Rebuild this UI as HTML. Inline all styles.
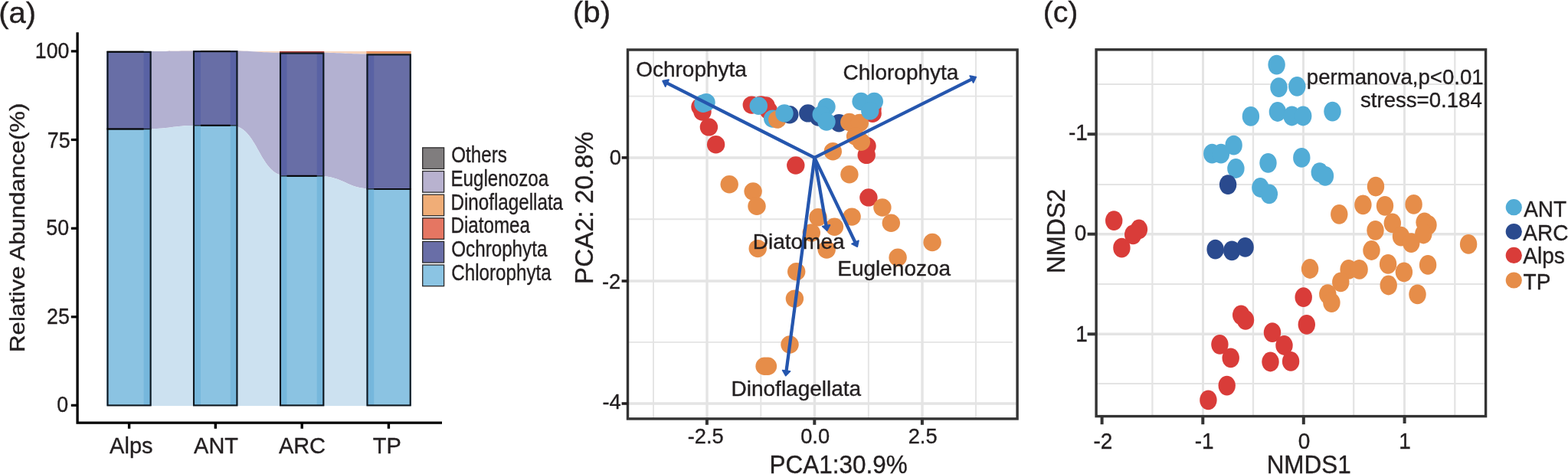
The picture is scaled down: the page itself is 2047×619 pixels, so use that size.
<!DOCTYPE html>
<html lang="en">
<head>
<meta charset="utf-8">
<title>Figure: relative abundance, PCA and NMDS</title>
<style>
html,body{margin:0;padding:0;background:#fff;}
body{width:2047px;height:619px;overflow:hidden;}
svg{display:block;font-family:"Liberation Sans", Arial, Helvetica, sans-serif;}
</style>
</head>
<body>
<svg width="2047" height="619" viewBox="0 0 2047 619" role="img" aria-label="Three-panel figure: relative abundance bars, PCA biplot, NMDS ordination">
<rect x="0" y="0" width="2047" height="619" fill="#ffffff"/>
<g id="panel-a">
<text transform="translate(-1.74 29.90) scale(1.02 1)" font-size="39.20" fill="#231f20" stroke="#231f20" stroke-width="0.36" xml:space="preserve">(a)</text>
<path d="M187.6,67.0 C224.8,67.0 224.8,67.0 262.0,67.0 L262.0,66.4 C224.8,66.4 224.8,67.0 187.6,67.0 Z" fill="#f8d6bf"/>
<path d="M187.6,67.0 C224.8,67.0 224.8,66.4 262.0,66.4 L262.0,163.8 C224.8,163.8 224.8,168.5 187.6,168.5 Z" fill="#b3b1d1"/>
<path d="M187.6,168.5 C224.8,168.5 224.8,163.8 262.0,163.8 L262.0,529.9 C224.8,529.9 224.8,529.9 187.6,529.9 Z" fill="#cce1f0"/>
<path d="M300.7,67.0 C337.6,67.0 337.6,67.0 374.5,67.0 L374.5,68.8 C337.6,68.8 337.6,66.4 300.7,66.4 Z" fill="#f8d6bf"/>
<path d="M300.7,66.4 C337.6,66.4 337.6,68.8 374.5,68.8 L374.5,229.8 C337.6,229.8 337.6,163.8 300.7,163.8 Z" fill="#b3b1d1"/>
<path d="M300.7,163.8 C337.6,163.8 337.6,229.8 374.5,229.8 L374.5,529.9 C337.6,529.9 337.6,529.9 300.7,529.9 Z" fill="#cce1f0"/>
<path d="M413.7,67.0 C450.95,67.0 450.95,67.0 488.2,67.0 L488.2,70.6 C450.95,70.6 450.95,68.8 413.7,68.8 Z" fill="#f8d6bf"/>
<path d="M413.7,68.8 C450.95,68.8 450.95,70.6 488.2,70.6 L488.2,246.9 C450.95,246.9 450.95,229.8 413.7,229.8 Z" fill="#b3b1d1"/>
<path d="M413.7,229.8 C450.95,229.8 450.95,246.9 488.2,246.9 L488.2,529.9 C450.95,529.9 450.95,529.9 413.7,529.9 Z" fill="#cce1f0"/>
<rect x="139.5" y="67.0" width="58.0" height="101.5" fill="#5962a4"/>
<rect x="139.5" y="168.5" width="58.0" height="361.4" fill="#76b7dc"/>
<rect x="139.5" y="67.0" width="48.1" height="101.5" fill="#686ea6"/>
<rect x="139.5" y="168.5" width="48.1" height="361.4" fill="#8bc3e2"/>
<rect x="140.50" y="67.80" width="56.10" height="461.60" fill="none" stroke="#0e171f" stroke-width="2.1"/>
<line x1="139.5" x2="197.5" y1="168.5" y2="168.5" stroke="#141c22" stroke-width="1.3"/>
<line x1="139.5" x2="187.6" y1="168.5" y2="168.5" stroke="#000" stroke-width="1.9"/>
<line x1="139.5" x2="187.6" y1="67.5" y2="67.5" stroke="#000" stroke-width="1.6"/>
<rect x="252.0" y="66.4" width="58.3" height="97.4" fill="#5962a4"/>
<rect x="252.0" y="163.8" width="58.3" height="366.1" fill="#76b7dc"/>
<rect x="262.0" y="66.4" width="38.7" height="97.4" fill="#686ea6"/>
<rect x="262.0" y="163.8" width="38.7" height="366.1" fill="#8bc3e2"/>
<rect x="253.00" y="67.20" width="56.40" height="462.20" fill="none" stroke="#0e171f" stroke-width="2.1"/>
<line x1="252.0" x2="310.3" y1="163.8" y2="163.8" stroke="#141c22" stroke-width="1.3"/>
<line x1="262.0" x2="300.7" y1="163.8" y2="163.8" stroke="#000" stroke-width="1.9"/>
<line x1="262.0" x2="300.7" y1="66.9" y2="66.9" stroke="#000" stroke-width="1.6"/>
<rect x="365.0" y="68.8" width="58.2" height="161.0" fill="#5962a4"/>
<rect x="365.0" y="229.8" width="58.2" height="300.1" fill="#76b7dc"/>
<rect x="374.5" y="68.8" width="39.2" height="161.0" fill="#686ea6"/>
<rect x="374.5" y="229.8" width="39.2" height="300.1" fill="#8bc3e2"/>
<rect x="365.0" y="67.0" width="58.2" height="1.8" fill="#a5352c"/>
<rect x="366.00" y="69.60" width="56.30" height="459.80" fill="none" stroke="#0e171f" stroke-width="2.1"/>
<line x1="365.0" x2="423.2" y1="229.8" y2="229.8" stroke="#141c22" stroke-width="1.3"/>
<line x1="374.5" x2="413.7" y1="229.8" y2="229.8" stroke="#000" stroke-width="1.9"/>
<rect x="478.5" y="70.6" width="58.1" height="176.3" fill="#5962a4"/>
<rect x="478.5" y="246.9" width="58.1" height="283.0" fill="#76b7dc"/>
<rect x="488.2" y="70.6" width="48.4" height="176.3" fill="#686ea6"/>
<rect x="488.2" y="246.9" width="48.4" height="283.0" fill="#8bc3e2"/>
<rect x="478.5" y="67.0" width="58.1" height="3.6" fill="#e79a62"/>
<rect x="478.5" y="67.0" width="58.1" height="0.8" fill="#e8825f"/>
<rect x="479.50" y="71.40" width="56.20" height="458.00" fill="none" stroke="#0e171f" stroke-width="2.1"/>
<line x1="478.5" x2="536.6" y1="246.9" y2="246.9" stroke="#141c22" stroke-width="1.3"/>
<line x1="488.2" x2="536.6" y1="246.9" y2="246.9" stroke="#000" stroke-width="1.9"/>
<path d="M101.1,42.2 V552.2 H577.0" fill="none" stroke="#000" stroke-width="3.3" stroke-linejoin="miter"/>
<line x1="92.8" x2="101" y1="66.9" y2="66.9" stroke="#000" stroke-width="3.2"/>
<text transform="translate(45.75 75.70) scale(0.93 1)" font-size="28.78" fill="#231f20" stroke="#231f20" stroke-width="0.36" xml:space="preserve">100</text>
<line x1="92.8" x2="101" y1="182.5" y2="182.5" stroke="#000" stroke-width="3.2"/>
<text transform="translate(61.82 193.20) scale(0.93 1)" font-size="28.78" fill="#231f20" stroke="#231f20" stroke-width="0.36" xml:space="preserve">75</text>
<line x1="92.8" x2="101" y1="298.2" y2="298.2" stroke="#000" stroke-width="3.2"/>
<text transform="translate(60.35 307.20) scale(0.93 1)" font-size="28.78" fill="#231f20" stroke="#231f20" stroke-width="0.36" xml:space="preserve">50</text>
<line x1="92.8" x2="101" y1="413.8" y2="413.8" stroke="#000" stroke-width="3.2"/>
<text transform="translate(61.02 422.90) scale(0.93 1)" font-size="28.78" fill="#231f20" stroke="#231f20" stroke-width="0.36" xml:space="preserve">25</text>
<line x1="92.8" x2="101" y1="529.3" y2="529.3" stroke="#000" stroke-width="3.2"/>
<text transform="translate(74.28 537.60) scale(0.93 1)" font-size="28.78" fill="#231f20" stroke="#231f20" stroke-width="0.36" xml:space="preserve">0</text>
<line x1="168.6" x2="168.6" y1="552" y2="559.8" stroke="#000" stroke-width="3.4"/>
<text transform="translate(143.12 592.00) scale(0.98 1)" font-size="29.58" fill="#231f20" stroke="#231f20" stroke-width="0.36" xml:space="preserve">Alps</text>
<line x1="281.3" x2="281.3" y1="552" y2="559.8" stroke="#000" stroke-width="3.4"/>
<text transform="translate(253.09 592.00) scale(0.96 1)" font-size="30.16" fill="#231f20" stroke="#231f20" stroke-width="0.36" xml:space="preserve">ANT</text>
<line x1="394.2" x2="394.2" y1="552" y2="559.8" stroke="#000" stroke-width="3.4"/>
<text transform="translate(363.88 592.00) scale(0.96 1)" font-size="30.16" fill="#231f20" stroke="#231f20" stroke-width="0.36" xml:space="preserve">ARC</text>
<line x1="507.4" x2="507.4" y1="552" y2="559.8" stroke="#000" stroke-width="3.4"/>
<text transform="translate(486.71 592.00) scale(0.96 1)" font-size="30.16" fill="#231f20" stroke="#231f20" stroke-width="0.36" xml:space="preserve">TP</text>
<text transform="translate(31.90 459.88) rotate(-90) scale(1.1 1)" font-size="28.30" fill="#231f20" stroke="#231f20" stroke-width="0.36" xml:space="preserve">Relative Abundance(%)</text>
<rect x="551.7" y="192.90" width="27.9" height="27.6" fill="#807d7e" stroke="#2b2a2b" stroke-width="1.3"/>
<text transform="translate(589.25 212.40) scale(0.83 1)" font-size="29.17" fill="#231f20" stroke="#231f20" stroke-width="0.36" xml:space="preserve">Others</text>
<rect x="551.7" y="223.52" width="27.9" height="27.6" fill="#b8b2cf" stroke="#2b2a2b" stroke-width="1.3"/>
<text transform="translate(588.40 243.02) scale(0.83 1)" font-size="29.17" fill="#231f20" stroke="#231f20" stroke-width="0.36" xml:space="preserve">Euglenozoa</text>
<rect x="551.7" y="254.14" width="27.9" height="27.6" fill="#f0ad77" stroke="#2b2a2b" stroke-width="1.3"/>
<text transform="translate(588.40 273.64) scale(0.83 1)" font-size="29.17" fill="#231f20" stroke="#231f20" stroke-width="0.36" xml:space="preserve">Dinoflagellata</text>
<rect x="551.7" y="284.76" width="27.9" height="27.6" fill="#e57662" stroke="#2b2a2b" stroke-width="1.3"/>
<text transform="translate(588.40 304.26) scale(0.83 1)" font-size="29.17" fill="#231f20" stroke="#231f20" stroke-width="0.36" xml:space="preserve">Diatomea</text>
<rect x="551.7" y="315.38" width="27.9" height="27.6" fill="#696ea7" stroke="#2b2a2b" stroke-width="1.3"/>
<text transform="translate(589.25 334.88) scale(0.83 1)" font-size="29.17" fill="#231f20" stroke="#231f20" stroke-width="0.36" xml:space="preserve">Ochrophyta</text>
<rect x="551.7" y="346.00" width="27.9" height="27.6" fill="#8bc4e3" stroke="#2b2a2b" stroke-width="1.3"/>
<text transform="translate(589.19 365.50) scale(0.83 1)" font-size="29.17" fill="#231f20" stroke="#231f20" stroke-width="0.36" xml:space="preserve">Chlorophyta</text>
</g>
<g id="panel-b">
<text transform="translate(747.87 29.30) scale(1.03 1)" font-size="39.20" fill="#231f20" stroke="#231f20" stroke-width="0.36" xml:space="preserve">(b)</text>
<path d="M852.05,65.0h1.9V546.9h-1.9z M992.35,65.0h1.9V546.9h-1.9z M1132.85,65.0h1.9V546.9h-1.9z M1273.05,65.0h1.9V546.9h-1.9z M819.5,124.65H1322v1.9H819.5z M819.5,285.35H1322v1.9H819.5z M819.5,445.95H1322v1.9H819.5z M921.30,65.0h3.4V546.9h-3.4z M1061.75,65.0h3.4V546.9h-3.4z M1202.30,65.0h3.4V546.9h-3.4z M819.5,204.25H1326.6v3.5H819.5z M819.5,365.25H1326.6v3.5H819.5z M819.5,525.25H1326.6v3.5H819.5z" fill="#e4e4e4"/>
<circle cx="914.0" cy="139.5" r="11.7" fill="#d93c39"/>
<circle cx="917.0" cy="146.0" r="11.7" fill="#d93c39"/>
<circle cx="918.0" cy="135.2" r="11.7" fill="#52acd6"/>
<circle cx="922.0" cy="133.8" r="11.7" fill="#52acd6"/>
<circle cx="925.4" cy="165.9" r="11.7" fill="#d93c39"/>
<circle cx="934.6" cy="188.7" r="11.7" fill="#d93c39"/>
<circle cx="981.3" cy="137.1" r="11.7" fill="#d93c39"/>
<circle cx="993.5" cy="137.0" r="11.7" fill="#d93c39"/>
<circle cx="1000.0" cy="138.0" r="11.7" fill="#d93c39"/>
<circle cx="1003.5" cy="144.5" r="11.7" fill="#d93c39"/>
<circle cx="1008.7" cy="155.1" r="11.7" fill="#52acd6"/>
<circle cx="1014.8" cy="156.1" r="11.7" fill="#e68d49"/>
<circle cx="990.3" cy="138.3" r="11.7" fill="#52acd6"/>
<circle cx="1030.8" cy="149.8" r="11.7" fill="#2a4a8e"/>
<circle cx="1024.0" cy="147.9" r="11.7" fill="#52acd6"/>
<circle cx="1054.8" cy="147.9" r="11.7" fill="#2a4a8e"/>
<circle cx="1068.5" cy="153.0" r="11.7" fill="#2a4a8e"/>
<circle cx="1095.3" cy="160.8" r="11.7" fill="#2a4a8e"/>
<circle cx="1079.0" cy="139.6" r="11.7" fill="#52acd6"/>
<circle cx="1072.2" cy="149.6" r="11.7" fill="#52acd6"/>
<circle cx="1079.0" cy="159.0" r="11.7" fill="#52acd6"/>
<circle cx="1139.1" cy="148.3" r="11.7" fill="#d93c39"/>
<circle cx="1139.0" cy="142.0" r="11.7" fill="#d93c39"/>
<circle cx="1108.8" cy="159.4" r="11.7" fill="#e68d49"/>
<circle cx="1122.3" cy="160.4" r="11.7" fill="#e68d49"/>
<circle cx="1132.0" cy="190.7" r="11.7" fill="#d93c39"/>
<circle cx="1131.2" cy="202.4" r="11.7" fill="#d93c39"/>
<circle cx="1116.6" cy="178.0" r="11.7" fill="#e68d49"/>
<circle cx="1124.3" cy="185.2" r="11.7" fill="#e68d49"/>
<circle cx="1124.1" cy="132.4" r="11.7" fill="#52acd6"/>
<circle cx="1141.3" cy="132.4" r="11.7" fill="#52acd6"/>
<circle cx="1135.8" cy="144.9" r="11.7" fill="#52acd6"/>
<circle cx="1087.3" cy="197.7" r="11.7" fill="#e68d49"/>
<circle cx="1038.8" cy="216.0" r="11.7" fill="#d93c39"/>
<circle cx="952.2" cy="240.7" r="11.7" fill="#e68d49"/>
<circle cx="983.1" cy="250.0" r="11.7" fill="#e68d49"/>
<circle cx="988.0" cy="269.2" r="11.7" fill="#e68d49"/>
<circle cx="1108.9" cy="227.8" r="11.7" fill="#e68d49"/>
<circle cx="1133.9" cy="257.9" r="11.7" fill="#d93c39"/>
<circle cx="1151.9" cy="271.0" r="11.7" fill="#e68d49"/>
<circle cx="1163.3" cy="291.3" r="11.7" fill="#e68d49"/>
<circle cx="1068.0" cy="283.7" r="11.7" fill="#e68d49"/>
<circle cx="1112.1" cy="283.1" r="11.7" fill="#e68d49"/>
<circle cx="1089.4" cy="296.3" r="11.7" fill="#e68d49"/>
<circle cx="1059.3" cy="303.9" r="11.7" fill="#e68d49"/>
<circle cx="989.2" cy="324.6" r="11.7" fill="#e68d49"/>
<circle cx="1079.2" cy="326.1" r="11.7" fill="#e68d49"/>
<circle cx="1217.1" cy="316.5" r="11.7" fill="#e68d49"/>
<circle cx="1172.1" cy="336.3" r="11.7" fill="#e68d49"/>
<circle cx="1039.7" cy="354.7" r="11.7" fill="#e68d49"/>
<circle cx="1037.4" cy="390.1" r="11.7" fill="#e68d49"/>
<circle cx="1031.0" cy="450.0" r="11.7" fill="#e68d49"/>
<circle cx="998.1" cy="478.2" r="11.7" fill="#e68d49"/>
<circle cx="1002.4" cy="478.2" r="11.7" fill="#e68d49"/>
<line x1="1063.3" y1="205.9" x2="869.03" y2="107.69" stroke="#2556ae" stroke-width="4.3" stroke-linecap="butt"/>
<polygon points="865.10,105.71 873.03,104.22 868.60,112.97" fill="#2556ae" stroke="#2556ae" stroke-width="1.8" stroke-linejoin="round"/>
<line x1="1063.3" y1="205.9" x2="1270.26" y2="102.57" stroke="#2556ae" stroke-width="4.3" stroke-linecap="butt"/>
<polygon points="1274.19,100.60 1270.66,107.84 1266.28,99.08" fill="#2556ae" stroke="#2556ae" stroke-width="1.8" stroke-linejoin="round"/>
<line x1="1063.3" y1="205.9" x2="1078.90" y2="296.78" stroke="#2556ae" stroke-width="4.3" stroke-linecap="butt"/>
<polygon points="1079.65,301.11 1073.74,295.63 1083.39,293.98" fill="#2556ae" stroke="#2556ae" stroke-width="1.8" stroke-linejoin="round"/>
<line x1="1063.3" y1="205.9" x2="1117.30" y2="318.22" stroke="#2556ae" stroke-width="4.3" stroke-linecap="butt"/>
<polygon points="1119.21,322.19 1112.02,318.54 1120.85,314.30" fill="#2556ae" stroke="#2556ae" stroke-width="1.8" stroke-linejoin="round"/>
<line x1="1063.3" y1="205.9" x2="1026.29" y2="486.25" stroke="#2556ae" stroke-width="4.3" stroke-linecap="butt"/>
<polygon points="1025.72,490.61 1021.70,483.62 1031.41,484.90" fill="#2556ae" stroke="#2556ae" stroke-width="1.8" stroke-linejoin="round"/>
<text transform="translate(830.21 99.90) scale(0.99 1)" font-size="28.28" fill="#231f20" stroke="#231f20" stroke-width="0.36" xml:space="preserve">Ochrophyta</text>
<text transform="translate(1100.46 103.80) scale(0.99 1)" font-size="28.28" fill="#231f20" stroke="#231f20" stroke-width="0.36" xml:space="preserve">Chlorophyta</text>
<text transform="translate(982.79 325.40) scale(0.99 1)" font-size="28.28" fill="#231f20" stroke="#231f20" stroke-width="0.36" xml:space="preserve">Diatomea</text>
<text transform="translate(1093.29 359.80) scale(0.99 1)" font-size="28.28" fill="#231f20" stroke="#231f20" stroke-width="0.36" xml:space="preserve">Euglenozoa</text>
<text transform="translate(954.55 516.50) scale(0.99 1)" font-size="28.28" fill="#231f20" stroke="#231f20" stroke-width="0.36" xml:space="preserve">Dinoflagellata</text>
<rect x="819.5" y="65.0" width="508.6" height="481.9" fill="none" stroke="#333333" stroke-width="3.4"/>
<line x1="811.6" x2="819.5" y1="205.9" y2="205.9" stroke="#231f20" stroke-width="3.6"/>
<text transform="translate(795.82 214.90) scale(0.97 1)" font-size="28.22" fill="#231f20" stroke="#231f20" stroke-width="0.36" xml:space="preserve">0</text>
<line x1="811.6" x2="819.5" y1="367.0" y2="367.0" stroke="#231f20" stroke-width="3.6"/>
<text transform="translate(785.95 376.80) scale(0.97 1)" font-size="28.22" fill="#231f20" stroke="#231f20" stroke-width="0.36" xml:space="preserve">-2</text>
<line x1="811.6" x2="819.5" y1="527.0" y2="527.0" stroke="#231f20" stroke-width="3.6"/>
<text transform="translate(786.44 533.90) scale(0.97 1)" font-size="28.22" fill="#231f20" stroke="#231f20" stroke-width="0.36" xml:space="preserve">-4</text>
<line x1="922.9" x2="922.9" y1="546.9" y2="554.8" stroke="#333333" stroke-width="4"/>
<text transform="translate(897.67 578.70) scale(0.97 1)" font-size="28.12" fill="#231f20" stroke="#231f20" stroke-width="0.36" xml:space="preserve">-2.5</text>
<line x1="1063.3" x2="1063.3" y1="546.9" y2="554.8" stroke="#333333" stroke-width="4"/>
<text transform="translate(1045.14 578.70) scale(0.97 1)" font-size="28.12" fill="#231f20" stroke="#231f20" stroke-width="0.36" xml:space="preserve">0.0</text>
<line x1="1203.9" x2="1203.9" y1="546.9" y2="554.8" stroke="#333333" stroke-width="4"/>
<text transform="translate(1185.69 578.70) scale(0.97 1)" font-size="28.12" fill="#231f20" stroke="#231f20" stroke-width="0.36" xml:space="preserve">2.5</text>
<text transform="translate(1004.54 617.60) scale(0.96 1)" font-size="32.76" fill="#231f20" stroke="#231f20" stroke-width="0.36" xml:space="preserve">PCA1:30.9%</text>
<text transform="translate(774.00 370.93) rotate(-90) scale(0.98 1)" font-size="33.80" fill="#231f20" stroke="#231f20" stroke-width="0.36" xml:space="preserve">PCA2: 20.8%</text>
</g>
<g id="panel-c">
<text transform="translate(1361.67 29.30)" font-size="39.20" fill="#231f20" stroke="#231f20" stroke-width="0.36" xml:space="preserve">(c)</text>
<path d="M1503.25,64.8h2.3V543.6h-2.3z M1634.85,64.8h2.3V543.6h-2.3z M1766.05,64.8h2.3V543.6h-2.3z M1898.15,64.8h2.3V543.6h-2.3z M1431.1,109.00H1939.6v2.0H1431.1z M1431.1,240.00H1939.6v2.0H1431.1z M1431.1,370.00H1939.6v2.0H1431.1z M1431.1,500.00H1939.6v2.0H1431.1z M1569.00,64.8h3.0V543.6h-3.0z M1700.00,64.8h3.0V543.6h-3.0z M1832.00,64.8h3.0V543.6h-3.0z M1431.1,173.40H1939.6v3.4H1431.1z M1431.1,304.00H1939.6v3.4H1431.1z M1431.1,434.60H1939.6v3.4H1431.1z" fill="#e4e4e4"/>
<ellipse cx="1666.6" cy="84.6" rx="11.2" ry="12.9" fill="#52acd6"/>
<ellipse cx="1669.5" cy="114.2" rx="11.2" ry="12.9" fill="#52acd6"/>
<ellipse cx="1693.3" cy="112.8" rx="11.2" ry="12.9" fill="#52acd6"/>
<ellipse cx="1667.9" cy="146.0" rx="11.2" ry="12.9" fill="#52acd6"/>
<ellipse cx="1686.5" cy="151.5" rx="11.2" ry="12.9" fill="#52acd6"/>
<ellipse cx="1701.2" cy="151.5" rx="11.2" ry="12.9" fill="#52acd6"/>
<ellipse cx="1739.5" cy="145.6" rx="11.2" ry="12.9" fill="#52acd6"/>
<ellipse cx="1632.9" cy="151.9" rx="11.2" ry="12.9" fill="#52acd6"/>
<ellipse cx="1582.3" cy="200.7" rx="11.2" ry="12.9" fill="#52acd6"/>
<ellipse cx="1594.0" cy="200.7" rx="11.2" ry="12.9" fill="#52acd6"/>
<ellipse cx="1610.6" cy="189.7" rx="11.2" ry="12.9" fill="#52acd6"/>
<ellipse cx="1613.4" cy="220.0" rx="11.2" ry="12.9" fill="#52acd6"/>
<ellipse cx="1655.5" cy="212.8" rx="11.2" ry="12.9" fill="#52acd6"/>
<ellipse cx="1699.3" cy="205.9" rx="11.2" ry="12.9" fill="#52acd6"/>
<ellipse cx="1722.8" cy="225.1" rx="11.2" ry="12.9" fill="#52acd6"/>
<ellipse cx="1730.0" cy="229.8" rx="11.2" ry="12.9" fill="#52acd6"/>
<ellipse cx="1645.4" cy="245.0" rx="11.2" ry="12.9" fill="#52acd6"/>
<ellipse cx="1656.9" cy="253.4" rx="11.2" ry="12.9" fill="#52acd6"/>
<ellipse cx="1603.1" cy="241.1" rx="11.2" ry="12.9" fill="#2a4a8e"/>
<ellipse cx="1586.6" cy="325.7" rx="11.2" ry="12.9" fill="#2a4a8e"/>
<ellipse cx="1608.2" cy="327.3" rx="11.2" ry="12.9" fill="#2a4a8e"/>
<ellipse cx="1625.6" cy="322.9" rx="11.2" ry="12.9" fill="#2a4a8e"/>
<ellipse cx="1454.2" cy="288.1" rx="11.2" ry="12.9" fill="#d93c39"/>
<ellipse cx="1486.9" cy="299.5" rx="11.2" ry="12.9" fill="#d93c39"/>
<ellipse cx="1479.2" cy="306.3" rx="11.2" ry="12.9" fill="#d93c39"/>
<ellipse cx="1464.4" cy="323.7" rx="11.2" ry="12.9" fill="#d93c39"/>
<ellipse cx="1701.7" cy="388.2" rx="11.2" ry="12.9" fill="#d93c39"/>
<ellipse cx="1705.8" cy="423.8" rx="11.2" ry="12.9" fill="#d93c39"/>
<ellipse cx="1620.2" cy="411.3" rx="11.2" ry="12.9" fill="#d93c39"/>
<ellipse cx="1626.0" cy="417.9" rx="11.2" ry="12.9" fill="#d93c39"/>
<ellipse cx="1661.0" cy="434.2" rx="11.2" ry="12.9" fill="#d93c39"/>
<ellipse cx="1676.5" cy="451.0" rx="11.2" ry="12.9" fill="#d93c39"/>
<ellipse cx="1685.1" cy="471.9" rx="11.2" ry="12.9" fill="#d93c39"/>
<ellipse cx="1658.5" cy="472.5" rx="11.2" ry="12.9" fill="#d93c39"/>
<ellipse cx="1592.4" cy="449.8" rx="11.2" ry="12.9" fill="#d93c39"/>
<ellipse cx="1606.7" cy="467.4" rx="11.2" ry="12.9" fill="#d93c39"/>
<ellipse cx="1601.7" cy="503.6" rx="11.2" ry="12.9" fill="#d93c39"/>
<ellipse cx="1577.4" cy="522.4" rx="11.2" ry="12.9" fill="#d93c39"/>
<ellipse cx="1796.0" cy="243.6" rx="11.2" ry="12.9" fill="#e68d49"/>
<ellipse cx="1779.4" cy="267.4" rx="11.2" ry="12.9" fill="#e68d49"/>
<ellipse cx="1808.0" cy="268.8" rx="11.2" ry="12.9" fill="#e68d49"/>
<ellipse cx="1845.6" cy="266.9" rx="11.2" ry="12.9" fill="#e68d49"/>
<ellipse cx="1748.3" cy="279.8" rx="11.2" ry="12.9" fill="#e68d49"/>
<ellipse cx="1817.8" cy="291.4" rx="11.2" ry="12.9" fill="#e68d49"/>
<ellipse cx="1795.5" cy="300.8" rx="11.2" ry="12.9" fill="#e68d49"/>
<ellipse cx="1859.6" cy="290.3" rx="11.2" ry="12.9" fill="#e68d49"/>
<ellipse cx="1864.5" cy="293.8" rx="11.2" ry="12.9" fill="#e68d49"/>
<ellipse cx="1829.0" cy="308.7" rx="11.2" ry="12.9" fill="#e68d49"/>
<ellipse cx="1858.3" cy="305.5" rx="11.2" ry="12.9" fill="#e68d49"/>
<ellipse cx="1842.3" cy="317.2" rx="11.2" ry="12.9" fill="#e68d49"/>
<ellipse cx="1917.1" cy="318.9" rx="11.2" ry="12.9" fill="#e68d49"/>
<ellipse cx="1790.5" cy="327.0" rx="11.2" ry="12.9" fill="#e68d49"/>
<ellipse cx="1812.1" cy="344.9" rx="11.2" ry="12.9" fill="#e68d49"/>
<ellipse cx="1832.9" cy="355.3" rx="11.2" ry="12.9" fill="#e68d49"/>
<ellipse cx="1864.1" cy="345.9" rx="11.2" ry="12.9" fill="#e68d49"/>
<ellipse cx="1760.6" cy="351.9" rx="11.2" ry="12.9" fill="#e68d49"/>
<ellipse cx="1774.6" cy="351.9" rx="11.2" ry="12.9" fill="#e68d49"/>
<ellipse cx="1812.7" cy="372.5" rx="11.2" ry="12.9" fill="#e68d49"/>
<ellipse cx="1850.5" cy="384.4" rx="11.2" ry="12.9" fill="#e68d49"/>
<ellipse cx="1750.3" cy="368.4" rx="11.2" ry="12.9" fill="#e68d49"/>
<ellipse cx="1733.3" cy="384.1" rx="11.2" ry="12.9" fill="#e68d49"/>
<ellipse cx="1738.4" cy="395.2" rx="11.2" ry="12.9" fill="#e68d49"/>
<ellipse cx="1710.1" cy="351.0" rx="11.2" ry="12.9" fill="#e68d49"/>
<text transform="translate(1705.79 110.40) scale(0.99 1)" font-size="27.88" fill="#231f20" stroke="#231f20" stroke-width="0.36" xml:space="preserve">permanova,p&lt;0.01</text>
<text transform="translate(1776.02 139.80) scale(0.99 1)" font-size="27.88" fill="#231f20" stroke="#231f20" stroke-width="0.36" xml:space="preserve">stress=0.184</text>
<rect x="1431.1" y="64.8" width="508.5" height="478.8" fill="none" stroke="#333333" stroke-width="3.4"/>
<line x1="1419.6" x2="1431.1" y1="175.2" y2="175.2" stroke="#333333" stroke-width="4"/>
<text transform="translate(1394.88 183.00) scale(0.96 1)" font-size="29.12" fill="#231f20" stroke="#231f20" stroke-width="0.36" xml:space="preserve">-1</text>
<line x1="1419.6" x2="1431.1" y1="305.7" y2="305.7" stroke="#333333" stroke-width="4"/>
<text transform="translate(1402.71 314.00) scale(0.96 1)" font-size="29.12" fill="#231f20" stroke="#231f20" stroke-width="0.36" xml:space="preserve">0</text>
<line x1="1419.6" x2="1431.1" y1="436.3" y2="436.3" stroke="#333333" stroke-width="4"/>
<text transform="translate(1404.21 445.60) scale(0.96 1)" font-size="29.12" fill="#231f20" stroke="#231f20" stroke-width="0.36" xml:space="preserve">1</text>
<line x1="1438.6" x2="1438.6" y1="543.6" y2="554.2" stroke="#333333" stroke-width="4"/>
<text transform="translate(1427.49 585.70) scale(0.96 1)" font-size="29.12" fill="#231f20" stroke="#231f20" stroke-width="0.36" xml:space="preserve">-2</text>
<line x1="1570.3" x2="1570.3" y1="543.6" y2="554.2" stroke="#333333" stroke-width="4"/>
<text transform="translate(1559.71 585.70) scale(0.96 1)" font-size="29.12" fill="#231f20" stroke="#231f20" stroke-width="0.36" xml:space="preserve">-1</text>
<line x1="1701.8" x2="1701.8" y1="543.6" y2="554.2" stroke="#333333" stroke-width="4"/>
<text transform="translate(1694.64 585.70) scale(0.96 1)" font-size="29.12" fill="#231f20" stroke="#231f20" stroke-width="0.36" xml:space="preserve">0</text>
<line x1="1833.6" x2="1833.6" y1="543.6" y2="553.0" stroke="#333333" stroke-width="4"/>
<text transform="translate(1826.33 585.70) scale(0.96 1)" font-size="29.12" fill="#231f20" stroke="#231f20" stroke-width="0.36" xml:space="preserve">1</text>
<text transform="translate(1653.64 617.60) scale(0.96 1)" font-size="32.76" fill="#231f20" stroke="#231f20" stroke-width="0.36" xml:space="preserve">NMDS1</text>
<text transform="translate(1390.30 356.90) rotate(-90) scale(0.96 1)" font-size="32.76" fill="#231f20" stroke="#231f20" stroke-width="0.36" xml:space="preserve">NMDS2</text>
<circle cx="1976.3" cy="270.7" r="10.6" fill="#52acd6"/>
<text transform="translate(1989.13 282.80) scale(0.96 1)" font-size="29.22" fill="#231f20" stroke="#231f20" stroke-width="0.36" xml:space="preserve">ANT</text>
<circle cx="1976.3" cy="302.5" r="10.6" fill="#2a4a8e"/>
<text transform="translate(1988.23 313.50) scale(0.96 1)" font-size="29.22" fill="#231f20" stroke="#231f20" stroke-width="0.36" xml:space="preserve">ARC</text>
<circle cx="1976.3" cy="333.4" r="10.6" fill="#d93c39"/>
<text transform="translate(1988.23 343.50) scale(0.98 1)" font-size="28.66" fill="#231f20" stroke="#231f20" stroke-width="0.36" xml:space="preserve">Alps</text>
<circle cx="1976.3" cy="366.0" r="10.6" fill="#e68d49"/>
<text transform="translate(1988.57 377.50) scale(0.96 1)" font-size="29.22" fill="#231f20" stroke="#231f20" stroke-width="0.36" xml:space="preserve">TP</text>
</g>
</svg>
</body>
</html>
